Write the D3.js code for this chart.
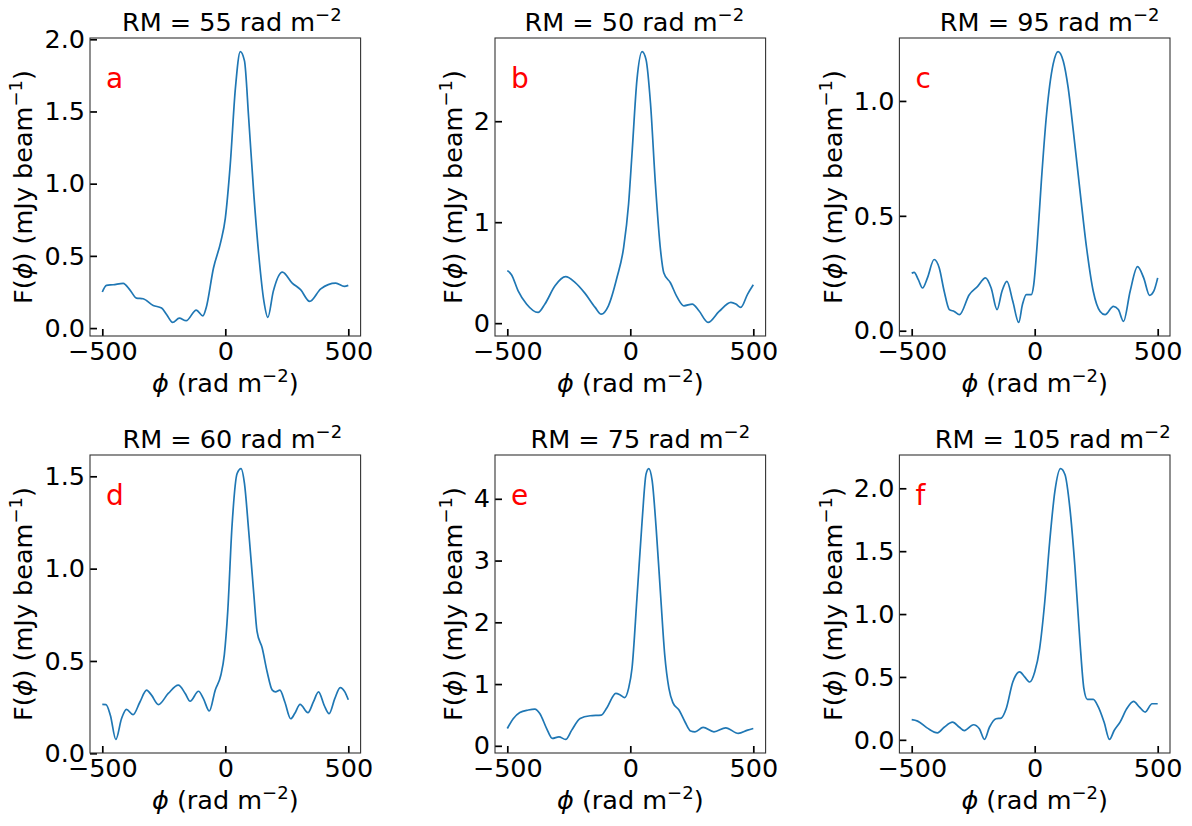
<!DOCTYPE html>
<html>
<head>
<meta charset="utf-8">
<script src="https://cdn.jsdelivr.net/npm/d3@7"></script>
<style>
  body { margin: 0; background: #fff; }
  text { font-family: "DejaVu Sans", sans-serif; }
</style>
</head>
<body>
<div id="chart"></div>
<script>
// values, phi in rad m^-2, F in mJy/beam
const phiA = [-500,-483,-456,-415,-388,-361,-334,-293,-259,-238,-214,-187,-159,-118,-91,-78,-48,-18,0,20,41,61,78,95,116,136,157,173,195,232,272,306,343,388,449,484,500];
const fA   = [0.25,0.296,0.30,0.31,0.265,0.208,0.203,0.157,0.139,0.092,0.039,0.069,0.051,0.125,0.085,0.139,0.416,0.60,0.76,1.13,1.66,1.915,1.85,1.455,0.924,0.508,0.185,0.074,0.254,0.388,0.312,0.266,0.185,0.272,0.312,0.289,0.296];

const phiB = [-500,-483,-456,-422,-375,-347,-306,-263,-225,-184,-143,-118,-89,-54,-27,-7,7,27,48,64,82,102,123,136,163,191,218,252,279,316,361,409,429,449,477,500];
const fB   = [0.52,0.48,0.32,0.19,0.106,0.19,0.37,0.46,0.404,0.295,0.156,0.089,0.172,0.454,0.75,1.18,1.68,2.41,2.69,2.61,2.18,1.38,0.72,0.50,0.40,0.255,0.172,0.189,0.123,0.007,0.116,0.205,0.189,0.156,0.288,0.38];

const phiC = [-500,-490,-473,-456,-436,-409,-388,-368,-347,-327,-306,-266,-232,-200,-177,-153,-133,-113,-89,-65,-50,-34,-14,-4,10,27,48,75,95,116,136,157,184,211,238,266,286,320,340,361,388,418,443,467,484,500];
const fC   = [0.25,0.254,0.222,0.186,0.23,0.31,0.273,0.172,0.092,0.084,0.07,0.157,0.193,0.23,0.186,0.092,0.172,0.215,0.128,0.036,0.113,0.157,0.157,0.20,0.375,0.65,0.94,1.16,1.215,1.174,1.058,0.87,0.61,0.36,0.172,0.084,0.07,0.106,0.092,0.041,0.172,0.279,0.23,0.154,0.172,0.23];

const phiD = [-500,-485,-467,-445,-422,-402,-375,-347,-320,-300,-272,-232,-191,-163,-143,-109,-89,-65,-41,-18,-4,10,27,48,64,78,95,116,129,150,170,191,204,222,242,266,282,304,336,358,379,402,422,445,467,486,500];
const fD   = [0.265,0.264,0.205,0.075,0.187,0.238,0.209,0.278,0.342,0.315,0.264,0.324,0.369,0.324,0.282,0.336,0.296,0.229,0.342,0.424,0.533,0.77,1.224,1.515,1.542,1.46,1.205,0.86,0.66,0.57,0.442,0.342,0.333,0.342,0.278,0.187,0.215,0.265,0.22,0.278,0.333,0.26,0.215,0.296,0.356,0.333,0.29];

const phiE = [-500,-476,-449,-415,-388,-368,-340,-317,-290,-263,-238,-204,-163,-118,-95,-59,-41,-23,-7,7,27,48,64,75,89,105,123,140,157,173,198,222,245,263,296,340,388,439,477,500];
const fE   = [0.28,0.44,0.54,0.58,0.595,0.525,0.28,0.12,0.146,0.103,0.254,0.444,0.487,0.498,0.617,0.85,0.823,0.78,0.93,1.256,2.39,3.64,4.40,4.49,4.29,3.53,2.45,1.47,0.93,0.70,0.58,0.39,0.24,0.227,0.30,0.227,0.292,0.20,0.254,0.28];

const phiF = [-500,-476,-436,-395,-368,-334,-306,-286,-249,-225,-204,-184,-157,-136,-116,-89,-61,-41,-20,0,20,41,61,82,105,123,143,163,184,200,214,238,259,282,304,323,347,374,402,426,449,477,500];
const fF   = [0.16,0.149,0.093,0.056,0.10,0.141,0.10,0.074,0.12,0.088,0.003,0.10,0.168,0.173,0.247,0.46,0.54,0.50,0.46,0.54,0.726,1.10,1.577,1.976,2.157,2.11,1.843,1.39,0.78,0.407,0.322,0.322,0.26,0.141,0.003,0.074,0.141,0.247,0.306,0.26,0.221,0.287,0.287];

const rmValues = [55, 50, 95, 60, 75, 105];
const letters = ['a', 'b', 'c', 'd', 'e', 'f'];
const xTicks = [-500, 0, 500];
const yTicksA = [0, 0.5, 1.0, 1.5, 2.0];
const yTicksB = [0, 1, 2];
const yTicksC = [0, 0.5, 1.0];
const yTicksD = [0, 0.5, 1.0, 1.5];
const yTicksE = [0, 1, 2, 3, 4];
const yTicksF = [0, 0.5, 1.0, 1.5, 2.0];

const panels = [
    { phi: phiA, f: fA, ticks: yTicksA, fmt: '.1f' },
    { phi: phiB, f: fB, ticks: yTicksB, fmt: 'd' },
    { phi: phiC, f: fC, ticks: yTicksC, fmt: '.1f' },
    { phi: phiD, f: fD, ticks: yTicksD, fmt: '.1f' },
    { phi: phiE, f: fE, ticks: yTicksE, fmt: 'd' },
    { phi: phiF, f: fF, ticks: yTicksF, fmt: '.1f' }
];

// layout
const W = 1192, H = 826;
const colLeft = [90, 495, 899.4];
const rowTop = [38, 455];
const boxW = 270.6, boxH = 298;
const titleDx = [6.5, 4, 15, 7, 10, 18];
const fontSize = 25.5;
const supSize = 18;

const svg = d3.select('#chart').append('svg')
    .attr('width', W)
    .attr('height', H);

// writes mixed text: plain, italic phi and superscripts
function richText(sel, parts) {
    let shift = 0;
    parts.forEach(p => {
        const t = sel.append('tspan').text(p.t);
        if (p.italic) t.style('font-style', 'italic');
        if (p.sup) {
            t.style('font-size', supSize + 'px').attr('dy', -10 - shift);
            shift = -10;
        } else if (shift !== 0) {
            t.attr('dy', -shift);
            shift = 0;
        }
    });
}

panels.forEach((p, i) => {
    const left = colLeft[i % 3];
    const top = rowTop[Math.floor(i / 3)];

    const data = p.phi.map((x, k) => ({ x: x, y: p.f[k] }));
    const [ymin, ymax] = d3.extent(p.f);
    const pad = 0.05 * (ymax - ymin);

    const x = d3.scaleLinear().domain([-550, 550]).range([0, boxW]);
    const y = d3.scaleLinear().domain([ymin - pad, ymax + pad]).range([boxH, 0]);

    const g = svg.append('g').attr('transform', `translate(${left},${top})`);

    const line = d3.line()
        .x(d => x(d.x))
        .y(d => y(d.y))
        .curve(d3.curveMonotoneX);

    g.append('path')
        .datum(data)
        .attr('fill', 'none')
        .attr('stroke', '#1f77b4')
        .attr('stroke-width', 1.7)
        .attr('d', line);

    // axes with inward ticks
    const xAxis = g.append('g')
        .attr('transform', `translate(0,${boxH})`)
        .call(d3.axisBottom(x).tickValues(xTicks).tickSizeInner(-7).tickSizeOuter(0)
            .tickFormat(d3.format('d')));
    const yAxis = g.append('g')
        .call(d3.axisLeft(y).tickValues(p.ticks).tickSizeInner(-7).tickSizeOuter(0).tickPadding(5)
            .tickFormat(d3.format(p.fmt)));

    [xAxis, yAxis].forEach(a => {
        a.select('.domain').remove();
        a.selectAll('line').attr('stroke', '#000').attr('stroke-width', 1.7);
        a.selectAll('text')
            .attr('fill', '#000')
            .style('font-size', fontSize + 'px')
            .style('font-family', '"DejaVu Sans", sans-serif');
    });
    xAxis.selectAll('text').attr('dy', null).attr('y', 24);

    g.append('rect')
        .attr('width', boxW)
        .attr('height', boxH)
        .attr('fill', 'none')
        .attr('stroke', '#333')
        .attr('stroke-width', 1.1);

    // panel title
    const title = g.append('text')
        .attr('x', boxW / 2 + titleDx[i])
        .attr('y', -7)
        .attr('text-anchor', 'middle')
        .style('font-size', fontSize + 'px');
    richText(title, [{ t: `RM = ${rmValues[i]} rad m` }, { t: '\u22122', sup: true }]);

    // x label
    const xl = g.append('text')
        .attr('x', boxW / 2)
        .attr('y', boxH + 56)
        .attr('text-anchor', 'middle')
        .style('font-size', fontSize + 'px');
    richText(xl, [{ t: '\u03d5', italic: true }, { t: ' (rad m' }, { t: '\u22122', sup: true }, { t: ')' }]);

    // y label, placed after the widest tick label
    let maxW = 0;
    yAxis.selectAll('text').each(function () { maxW = Math.max(maxW, this.getBBox().width); });
    const yl = g.append('text')
        .attr('transform', `translate(${-(maxW + 17)},${boxH / 2}) rotate(-90)`)
        .attr('text-anchor', 'middle')
        .style('font-size', fontSize + 'px');
    richText(yl, [{ t: 'F(' }, { t: '\u03d5', italic: true }, { t: ') (mJy beam' }, { t: '\u22121', sup: true }, { t: ')' }]);

    // panel letter
    g.append('text')
        .attr('x', 16)
        .attr('y', 50)
        .attr('fill', 'red')
        .style('font-size', '28px')
        .text(letters[i]);
});
</script>
</body>
</html>
